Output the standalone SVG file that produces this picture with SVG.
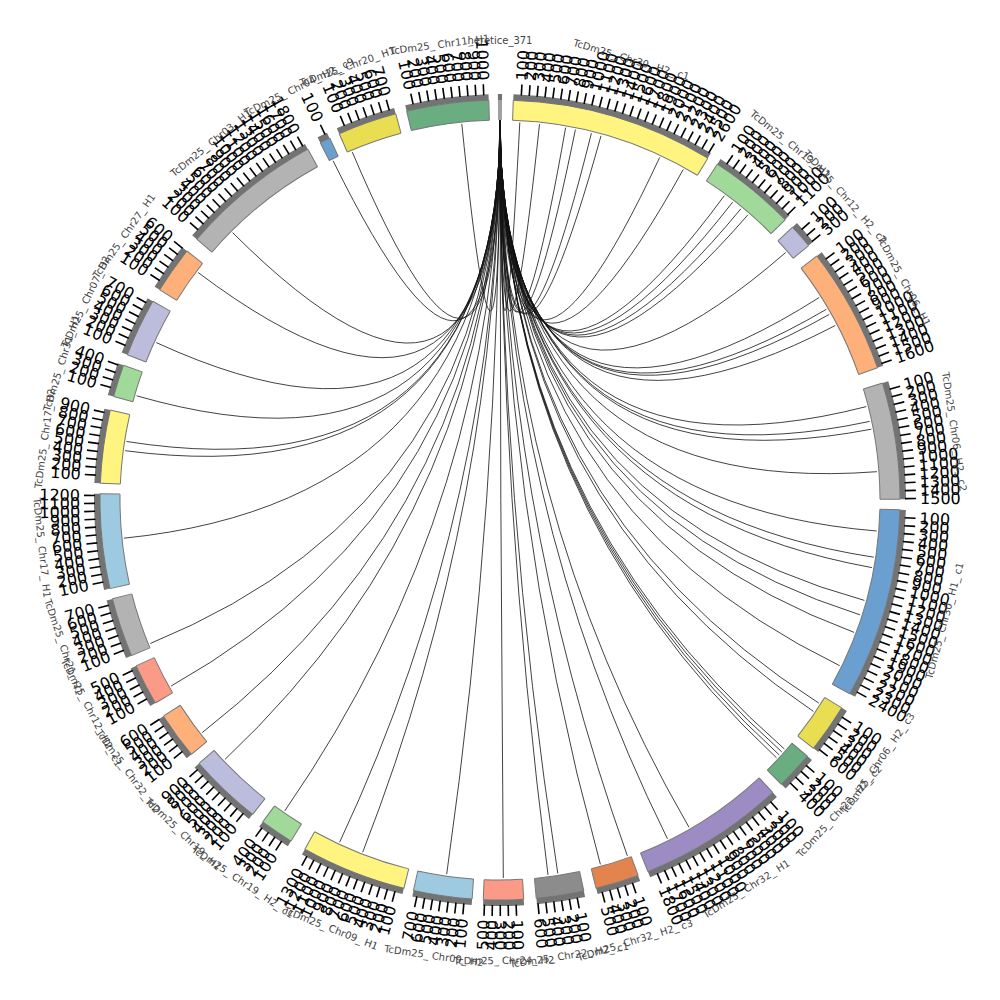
<svg xmlns="http://www.w3.org/2000/svg" width="1000" height="1000" viewBox="0 0 1000 1000">
<style>
.sg{fill:none;stroke-width:20;transform:rotate(-90deg)}
.ol{fill:none;stroke:#777;stroke-width:1;transform:rotate(-90deg)}
.bd{fill:none;stroke:#737373;stroke-width:6;transform:rotate(-90deg)}
.oe{fill:none;stroke:#777;stroke-width:1}
.k{stroke:#000;stroke-width:1.6}
.r,.l{font-family:"DejaVu Sans",sans-serif;font-size:16px;fill:#000;dominant-baseline:central}
.r{transform:rotate(-90deg)}
.l{transform:rotate(90deg);text-anchor:end}
.nm{font-family:"DejaVu Sans",sans-serif;font-size:10px;fill:#444;text-anchor:middle}
.lk{fill:none;stroke:#111;stroke-width:0.8}
</style>
<defs><path id="k" class="k" d="M0-405V-416"/></defs>
<rect width="1000" height="1000" fill="#fff"/>
<g id="links">
<path class="lk" d="M500 120Q500 500 519.8 122.5" stroke="#6b3a1a"/>
<path class="lk" d="M500 120Q500 500 539.5 124.1"/>
<path class="lk" d="M500 120Q500 500 565.6 127.7" stroke="#7a4020"/>
<path class="lk" d="M500 120Q500 500 575.4 129.6" stroke="#2f4f2f"/>
<path class="lk" d="M500 120Q500 500 591.4 133.2" stroke="#5a3a7a"/>
<path class="lk" d="M500 120Q500 500 601 135.8"/>
<path class="lk" d="M500 120Q500 500 659.7 157.4" stroke="#223"/>
<path class="lk" d="M500 120Q500 500 683.3 169.4"/>
<path class="lk" d="M500 120Q500 500 724.3 195.7"/>
<path class="lk" d="M500 120Q500 500 732.7 202.1" stroke="#334"/>
<path class="lk" d="M500 120Q500 500 740.9 208.8" stroke="#2f4f2f"/>
<path class="lk" d="M500 120Q500 500 748 214.7"/>
<path class="lk" d="M500 120Q500 500 785.7 252.5" stroke="#2f4f2f"/>
<path class="lk" d="M500 120Q500 500 819.2 297.5" stroke="#2f5f2f"/>
<path class="lk" d="M500 120Q500 500 826.4 309.3"/>
<path class="lk" d="M500 120Q500 500 829.3 314.4" stroke="#334"/>
<path class="lk" d="M500 120Q500 500 835.3 325.5"/>
<path class="lk" d="M500 120Q500 500 866.3 406.6"/>
<path class="lk" d="M500 120Q500 500 869.7 421.4"/>
<path class="lk" d="M500 120Q500 500 871.3 429.2" stroke="#5a4a1a"/>
<path class="lk" d="M500 120Q500 500 876.9 471.7"/>
<path class="lk" d="M500 120Q500 500 876.7 531"/>
<path class="lk" d="M500 120Q500 500 873.7 557.2" stroke="#6a3a1a"/>
<path class="lk" d="M500 120Q500 500 871.9 567.6"/>
<path class="lk" d="M500 120Q500 500 864.4 600.4"/>
<path class="lk" d="M500 120Q500 500 860.1 614.9" stroke="#2a3a5a"/>
<path class="lk" d="M500 120Q500 500 854.1 632.4"/>
<path class="lk" d="M500 120Q500 500 839.7 665.7"/>
<path class="lk" d="M500 120Q500 500 818.8 703.1"/>
<path class="lk" d="M500 120Q500 500 813.4 711.4" stroke="#6a3a1a"/>
<path class="lk" d="M500 120Q500 500 784.4 749"/>
<path class="lk" d="M500 120Q500 500 781.8 751.9"/>
<path class="lk" d="M500 120Q500 500 779.2 754.9"/>
<path class="lk" d="M500 120Q500 500 776.5 757.8"/>
<path class="lk" d="M500 120Q500 500 689 827.3" stroke="#6a6a2a"/>
<path class="lk" d="M500 120Q500 500 667.5 838.9" stroke="#2a2a5a"/>
<path class="lk" d="M500 120Q500 500 627.4 855.9"/>
<path class="lk" d="M500 120Q500 500 600.4 864.4" stroke="#3f6f3f"/>
<path class="lk" d="M500 120Q500 500 557.8 873.5" stroke="#5a4a1a" stroke-width="1.5"/>
<path class="lk" d="M500 120Q500 500 548 874.9" stroke="#3a4a3a"/>
<path class="lk" d="M500 120Q500 500 503.3 878" stroke="#4a4a7a"/>
<path class="lk" d="M500 120Q500 500 446.7 874.2" stroke="#7a3a1a"/>
<path class="lk" d="M500 120Q500 500 362.7 852.2"/>
<path class="lk" d="M500 120Q500 500 339.6 842.3" stroke-width="1.3"/>
<path class="lk" d="M500 120Q500 500 284.8 810.8"/>
<path class="lk" d="M500 120Q500 500 225 759.4" stroke="#3d6b3d"/>
<path class="lk" d="M500 120Q500 500 202.1 732.7" stroke="#8b4a2b"/>
<path class="lk" d="M500 120Q500 500 171 686.1" stroke="#4a3a2a"/>
<path class="lk" d="M500 120Q500 500 150.3 643.5"/>
<path class="lk" d="M500 120Q500 500 123.9 538.2"/>
<path class="lk" d="M500 120Q500 500 125.2 450.7"/>
<path class="lk" d="M500 120Q500 500 126.5 441.5"/>
<path class="lk" d="M500 120Q500 500 136.6 395.8"/>
<path class="lk" d="M500 120Q500 500 156.3 342.6"/>
<path class="lk" d="M500 120Q500 500 198.1 272.5"/>
<path class="lk" d="M500 120Q500 500 232.7 232.7"/>
<path class="lk" d="M500 120Q500 500 333.1 160.8"/>
<path class="lk" d="M500 120Q500 500 352.3 152.1"/>
<path class="lk" d="M500 120Q500 500 461.8 123.9"/>
</g>

<g id="seg-A" transform="translate(500,500) rotate(359.7)">
<circle class="sg" r="390" pathLength="360" stroke="#a0a0a0" stroke-dasharray="0.6 400"/>
<circle class="bd" r="403" pathLength="360" stroke-dasharray="0.6 400"/>
<text class="nm" transform="rotate(0.3)" y="-456">heretice_371</text>
</g>

<g id="seg-B" transform="translate(500,500) rotate(1.9)">
<circle class="sg" r="390" pathLength="360" stroke="#fff480" stroke-dasharray="29.4 400"/>
<circle class="ol" r="380" pathLength="360" stroke-dasharray="29.4 400"/>
<circle class="ol" r="400" pathLength="360" stroke-dasharray="29.4 400"/>
<path class="oe" d="M0-380V-400"/><path class="oe" d="M0-380V-400" transform="rotate(29.4)"/>
<circle class="bd" r="403" pathLength="360" stroke-dasharray="29.4 400"/>
<g transform="rotate(1.12)"><use href="#k"/><text class="r" x="420">100</text></g>
<g transform="rotate(2.24)"><use href="#k"/><text class="r" x="420">200</text></g>
<g transform="rotate(3.36)"><use href="#k"/><text class="r" x="420">300</text></g>
<g transform="rotate(4.48)"><use href="#k"/><text class="r" x="420">400</text></g>
<g transform="rotate(5.6)"><use href="#k"/><text class="r" x="420">500</text></g>
<g transform="rotate(6.72)"><use href="#k"/><text class="r" x="420">600</text></g>
<g transform="rotate(7.84)"><use href="#k"/><text class="r" x="420">700</text></g>
<g transform="rotate(8.96)"><use href="#k"/><text class="r" x="420">800</text></g>
<g transform="rotate(10.08)"><use href="#k"/><text class="r" x="420">900</text></g>
<g transform="rotate(11.2)"><use href="#k"/><text class="r" x="420">1000</text></g>
<g transform="rotate(12.32)"><use href="#k"/><text class="r" x="420">1100</text></g>
<g transform="rotate(13.44)"><use href="#k"/><text class="r" x="420">1200</text></g>
<g transform="rotate(14.56)"><use href="#k"/><text class="r" x="420">1300</text></g>
<g transform="rotate(15.68)"><use href="#k"/><text class="r" x="420">1400</text></g>
<g transform="rotate(16.8)"><use href="#k"/><text class="r" x="420">1500</text></g>
<g transform="rotate(17.92)"><use href="#k"/><text class="r" x="420">1600</text></g>
<g transform="rotate(19.04)"><use href="#k"/><text class="r" x="420">1700</text></g>
<g transform="rotate(20.16)"><use href="#k"/><text class="r" x="420">1800</text></g>
<g transform="rotate(21.28)"><use href="#k"/><text class="r" x="420">1900</text></g>
<g transform="rotate(22.4)"><use href="#k"/><text class="r" x="420">2000</text></g>
<g transform="rotate(23.52)"><use href="#k"/><text class="r" x="420">2100</text></g>
<g transform="rotate(24.64)"><use href="#k"/><text class="r" x="420">2200</text></g>
<g transform="rotate(25.76)"><use href="#k"/><text class="r" x="420">2300</text></g>
<g transform="rotate(26.88)"><use href="#k"/><text class="r" x="420">2400</text></g>
<g transform="rotate(28)"><use href="#k"/><text class="r" x="420">2500</text></g>
<g transform="rotate(29.12)"><use href="#k"/><text class="r" x="420">2600</text></g>
<text class="nm" transform="rotate(14.7)" y="-456">TcDm25_ Chr30_ H2_ c1</text>
</g>

<g id="seg-C" transform="translate(500,500) rotate(32.9)">
<circle class="sg" r="390" pathLength="360" stroke="#a1d99b" stroke-dasharray="12.6 400"/>
<circle class="ol" r="380" pathLength="360" stroke-dasharray="12.6 400"/>
<circle class="ol" r="400" pathLength="360" stroke-dasharray="12.6 400"/>
<path class="oe" d="M0-380V-400"/><path class="oe" d="M0-380V-400" transform="rotate(12.6)"/>
<circle class="bd" r="403" pathLength="360" stroke-dasharray="12.6 400"/>
<g transform="rotate(1.12)"><use href="#k"/><text class="r" x="420">100</text></g>
<g transform="rotate(2.24)"><use href="#k"/><text class="r" x="420">200</text></g>
<g transform="rotate(3.36)"><use href="#k"/><text class="r" x="420">300</text></g>
<g transform="rotate(4.48)"><use href="#k"/><text class="r" x="420">400</text></g>
<g transform="rotate(5.6)"><use href="#k"/><text class="r" x="420">500</text></g>
<g transform="rotate(6.72)"><use href="#k"/><text class="r" x="420">600</text></g>
<g transform="rotate(7.84)"><use href="#k"/><text class="r" x="420">700</text></g>
<g transform="rotate(8.96)"><use href="#k"/><text class="r" x="420">800</text></g>
<g transform="rotate(10.08)"><use href="#k"/><text class="r" x="420">900</text></g>
<g transform="rotate(11.2)"><use href="#k"/><text class="r" x="420">1000</text></g>
<g transform="rotate(12.32)"><use href="#k"/><text class="r" x="420">1100</text></g>
<text class="nm" transform="rotate(6.3)" y="-456">TcDm25_ Chr13_ H1</text>
</g>

<g id="seg-D" transform="translate(500,500) rotate(47)">
<circle class="sg" r="390" pathLength="360" stroke="#bcbddc" stroke-dasharray="3.5 400"/>
<circle class="ol" r="380" pathLength="360" stroke-dasharray="3.5 400"/>
<circle class="ol" r="400" pathLength="360" stroke-dasharray="3.5 400"/>
<path class="oe" d="M0-380V-400"/><path class="oe" d="M0-380V-400" transform="rotate(3.5)"/>
<circle class="bd" r="403" pathLength="360" stroke-dasharray="3.5 400"/>
<g transform="rotate(1.12)"><use href="#k"/><text class="r" x="420">100</text></g>
<g transform="rotate(2.24)"><use href="#k"/><text class="r" x="420">200</text></g>
<g transform="rotate(3.36)"><use href="#k"/><text class="r" x="420">300</text></g>
<text class="nm" transform="rotate(1.75)" y="-456">TcDm25_ Chr12_ H2_ c2</text>
</g>

<g id="seg-E" transform="translate(500,500) rotate(52.4)">
<circle class="sg" r="390" pathLength="360" stroke="#fdb07a" stroke-dasharray="18.3 400"/>
<circle class="ol" r="380" pathLength="360" stroke-dasharray="18.3 400"/>
<circle class="ol" r="400" pathLength="360" stroke-dasharray="18.3 400"/>
<path class="oe" d="M0-380V-400"/><path class="oe" d="M0-380V-400" transform="rotate(18.3)"/>
<circle class="bd" r="403" pathLength="360" stroke-dasharray="18.3 400"/>
<g transform="rotate(1.12)"><use href="#k"/><text class="r" x="420">100</text></g>
<g transform="rotate(2.24)"><use href="#k"/><text class="r" x="420">200</text></g>
<g transform="rotate(3.36)"><use href="#k"/><text class="r" x="420">300</text></g>
<g transform="rotate(4.48)"><use href="#k"/><text class="r" x="420">400</text></g>
<g transform="rotate(5.6)"><use href="#k"/><text class="r" x="420">500</text></g>
<g transform="rotate(6.72)"><use href="#k"/><text class="r" x="420">600</text></g>
<g transform="rotate(7.84)"><use href="#k"/><text class="r" x="420">700</text></g>
<g transform="rotate(8.96)"><use href="#k"/><text class="r" x="420">800</text></g>
<g transform="rotate(10.08)"><use href="#k"/><text class="r" x="420">900</text></g>
<g transform="rotate(11.2)"><use href="#k"/><text class="r" x="420">1000</text></g>
<g transform="rotate(12.32)"><use href="#k"/><text class="r" x="420">1100</text></g>
<g transform="rotate(13.44)"><use href="#k"/><text class="r" x="420">1200</text></g>
<g transform="rotate(14.56)"><use href="#k"/><text class="r" x="420">1300</text></g>
<g transform="rotate(15.68)"><use href="#k"/><text class="r" x="420">1400</text></g>
<g transform="rotate(16.8)"><use href="#k"/><text class="r" x="420">1500</text></g>
<g transform="rotate(17.92)"><use href="#k"/><text class="r" x="420">1600</text></g>
<text class="nm" transform="rotate(9.15)" y="-456">TcDm25_ Chr06_ H1</text>
</g>

<g id="seg-F" transform="translate(500,500) rotate(73)">
<circle class="sg" r="390" pathLength="360" stroke="#b3b3b3" stroke-dasharray="16.9 400"/>
<circle class="ol" r="380" pathLength="360" stroke-dasharray="16.9 400"/>
<circle class="ol" r="400" pathLength="360" stroke-dasharray="16.9 400"/>
<path class="oe" d="M0-380V-400"/><path class="oe" d="M0-380V-400" transform="rotate(16.9)"/>
<circle class="bd" r="403" pathLength="360" stroke-dasharray="16.9 400"/>
<g transform="rotate(1.12)"><use href="#k"/><text class="r" x="420">100</text></g>
<g transform="rotate(2.24)"><use href="#k"/><text class="r" x="420">200</text></g>
<g transform="rotate(3.36)"><use href="#k"/><text class="r" x="420">300</text></g>
<g transform="rotate(4.48)"><use href="#k"/><text class="r" x="420">400</text></g>
<g transform="rotate(5.6)"><use href="#k"/><text class="r" x="420">500</text></g>
<g transform="rotate(6.72)"><use href="#k"/><text class="r" x="420">600</text></g>
<g transform="rotate(7.84)"><use href="#k"/><text class="r" x="420">700</text></g>
<g transform="rotate(8.96)"><use href="#k"/><text class="r" x="420">800</text></g>
<g transform="rotate(10.08)"><use href="#k"/><text class="r" x="420">900</text></g>
<g transform="rotate(11.2)"><use href="#k"/><text class="r" x="420">1000</text></g>
<g transform="rotate(12.32)"><use href="#k"/><text class="r" x="420">1100</text></g>
<g transform="rotate(13.44)"><use href="#k"/><text class="r" x="420">1200</text></g>
<g transform="rotate(14.56)"><use href="#k"/><text class="r" x="420">1300</text></g>
<g transform="rotate(15.68)"><use href="#k"/><text class="r" x="420">1400</text></g>
<g transform="rotate(16.8)"><use href="#k"/><text class="r" x="420">1500</text></g>
<text class="nm" transform="rotate(8.45)" y="-456">TcDm25_ Chr06_ H2_ c2</text>
</g>

<g id="seg-G" transform="translate(500,500) rotate(91.4)">
<circle class="sg" r="390" pathLength="360" stroke="#6b9fcf" stroke-dasharray="27.6 400"/>
<circle class="ol" r="380" pathLength="360" stroke-dasharray="27.6 400"/>
<circle class="ol" r="400" pathLength="360" stroke-dasharray="27.6 400"/>
<path class="oe" d="M0-380V-400"/><path class="oe" d="M0-380V-400" transform="rotate(27.6)"/>
<circle class="bd" r="403" pathLength="360" stroke-dasharray="27.6 400"/>
<g transform="rotate(1.12)"><use href="#k"/><text class="r" x="420">100</text></g>
<g transform="rotate(2.24)"><use href="#k"/><text class="r" x="420">200</text></g>
<g transform="rotate(3.36)"><use href="#k"/><text class="r" x="420">300</text></g>
<g transform="rotate(4.48)"><use href="#k"/><text class="r" x="420">400</text></g>
<g transform="rotate(5.6)"><use href="#k"/><text class="r" x="420">500</text></g>
<g transform="rotate(6.72)"><use href="#k"/><text class="r" x="420">600</text></g>
<g transform="rotate(7.84)"><use href="#k"/><text class="r" x="420">700</text></g>
<g transform="rotate(8.96)"><use href="#k"/><text class="r" x="420">800</text></g>
<g transform="rotate(10.08)"><use href="#k"/><text class="r" x="420">900</text></g>
<g transform="rotate(11.2)"><use href="#k"/><text class="r" x="420">1000</text></g>
<g transform="rotate(12.32)"><use href="#k"/><text class="r" x="420">1100</text></g>
<g transform="rotate(13.44)"><use href="#k"/><text class="r" x="420">1200</text></g>
<g transform="rotate(14.56)"><use href="#k"/><text class="r" x="420">1300</text></g>
<g transform="rotate(15.68)"><use href="#k"/><text class="r" x="420">1400</text></g>
<g transform="rotate(16.8)"><use href="#k"/><text class="r" x="420">1500</text></g>
<g transform="rotate(17.92)"><use href="#k"/><text class="r" x="420">1600</text></g>
<g transform="rotate(19.04)"><use href="#k"/><text class="r" x="420">1700</text></g>
<g transform="rotate(20.16)"><use href="#k"/><text class="r" x="420">1800</text></g>
<g transform="rotate(21.28)"><use href="#k"/><text class="r" x="420">1900</text></g>
<g transform="rotate(22.4)"><use href="#k"/><text class="r" x="420">2000</text></g>
<g transform="rotate(23.52)"><use href="#k"/><text class="r" x="420">2100</text></g>
<g transform="rotate(24.64)"><use href="#k"/><text class="r" x="420">2200</text></g>
<g transform="rotate(25.76)"><use href="#k"/><text class="r" x="420">2300</text></g>
<g transform="rotate(26.88)"><use href="#k"/><text class="r" x="420">2400</text></g>
<text class="nm" transform="rotate(193.8)" y="464">TcDm25_ Chr30_ H1_ c1</text>
</g>

<g id="seg-H" transform="translate(500,500) rotate(121.3)">
<circle class="sg" r="390" pathLength="360" stroke="#e9de52" stroke-dasharray="7.1 400"/>
<circle class="ol" r="380" pathLength="360" stroke-dasharray="7.1 400"/>
<circle class="ol" r="400" pathLength="360" stroke-dasharray="7.1 400"/>
<path class="oe" d="M0-380V-400"/><path class="oe" d="M0-380V-400" transform="rotate(7.1)"/>
<circle class="bd" r="403" pathLength="360" stroke-dasharray="7.1 400"/>
<g transform="rotate(1.12)"><use href="#k"/><text class="r" x="420">100</text></g>
<g transform="rotate(2.24)"><use href="#k"/><text class="r" x="420">200</text></g>
<g transform="rotate(3.36)"><use href="#k"/><text class="r" x="420">300</text></g>
<g transform="rotate(4.48)"><use href="#k"/><text class="r" x="420">400</text></g>
<g transform="rotate(5.6)"><use href="#k"/><text class="r" x="420">500</text></g>
<g transform="rotate(6.72)"><use href="#k"/><text class="r" x="420">600</text></g>
<text class="nm" transform="rotate(183.55)" y="464">TcDm25_ Chr06_ H2_ c3</text>
</g>

<g id="seg-I" transform="translate(500,500) rotate(129.8)">
<circle class="sg" r="390" pathLength="360" stroke="#69ad80" stroke-dasharray="5.5 400"/>
<circle class="ol" r="380" pathLength="360" stroke-dasharray="5.5 400"/>
<circle class="ol" r="400" pathLength="360" stroke-dasharray="5.5 400"/>
<path class="oe" d="M0-380V-400"/><path class="oe" d="M0-380V-400" transform="rotate(5.5)"/>
<circle class="bd" r="403" pathLength="360" stroke-dasharray="5.5 400"/>
<g transform="rotate(1.12)"><use href="#k"/><text class="r" x="420">100</text></g>
<g transform="rotate(2.24)"><use href="#k"/><text class="r" x="420">200</text></g>
<g transform="rotate(3.36)"><use href="#k"/><text class="r" x="420">300</text></g>
<g transform="rotate(4.48)"><use href="#k"/><text class="r" x="420">400</text></g>
<text class="nm" transform="rotate(182.75)" y="464">TcDm25_ Chr22_ H2_ c2</text>
</g>

<g id="seg-J" transform="translate(500,500) rotate(137)">
<circle class="sg" r="390" pathLength="360" stroke="#9d8cc3" stroke-dasharray="21.3 400"/>
<circle class="ol" r="380" pathLength="360" stroke-dasharray="21.3 400"/>
<circle class="ol" r="400" pathLength="360" stroke-dasharray="21.3 400"/>
<path class="oe" d="M0-380V-400"/><path class="oe" d="M0-380V-400" transform="rotate(21.3)"/>
<circle class="bd" r="403" pathLength="360" stroke-dasharray="21.3 400"/>
<g transform="rotate(1.12)"><use href="#k"/><text class="r" x="420">100</text></g>
<g transform="rotate(2.24)"><use href="#k"/><text class="r" x="420">200</text></g>
<g transform="rotate(3.36)"><use href="#k"/><text class="r" x="420">300</text></g>
<g transform="rotate(4.48)"><use href="#k"/><text class="r" x="420">400</text></g>
<g transform="rotate(5.6)"><use href="#k"/><text class="r" x="420">500</text></g>
<g transform="rotate(6.72)"><use href="#k"/><text class="r" x="420">600</text></g>
<g transform="rotate(7.84)"><use href="#k"/><text class="r" x="420">700</text></g>
<g transform="rotate(8.96)"><use href="#k"/><text class="r" x="420">800</text></g>
<g transform="rotate(10.08)"><use href="#k"/><text class="r" x="420">900</text></g>
<g transform="rotate(11.2)"><use href="#k"/><text class="r" x="420">1000</text></g>
<g transform="rotate(12.32)"><use href="#k"/><text class="r" x="420">1100</text></g>
<g transform="rotate(13.44)"><use href="#k"/><text class="r" x="420">1200</text></g>
<g transform="rotate(14.56)"><use href="#k"/><text class="r" x="420">1300</text></g>
<g transform="rotate(15.68)"><use href="#k"/><text class="r" x="420">1400</text></g>
<g transform="rotate(16.8)"><use href="#k"/><text class="r" x="420">1500</text></g>
<g transform="rotate(17.92)"><use href="#k"/><text class="r" x="420">1600</text></g>
<g transform="rotate(19.04)"><use href="#k"/><text class="r" x="420">1700</text></g>
<g transform="rotate(20.16)"><use href="#k"/><text class="r" x="420">1800</text></g>
<text class="nm" transform="rotate(190.65)" y="464">TcDm25_ Chr32_ H1</text>
</g>

<g id="seg-K" transform="translate(500,500) rotate(159.8)">
<circle class="sg" r="390" pathLength="360" stroke="#e3844f" stroke-dasharray="6.3 400"/>
<circle class="ol" r="380" pathLength="360" stroke-dasharray="6.3 400"/>
<circle class="ol" r="400" pathLength="360" stroke-dasharray="6.3 400"/>
<path class="oe" d="M0-380V-400"/><path class="oe" d="M0-380V-400" transform="rotate(6.3)"/>
<circle class="bd" r="403" pathLength="360" stroke-dasharray="6.3 400"/>
<g transform="rotate(1.12)"><use href="#k"/><text class="r" x="420">100</text></g>
<g transform="rotate(2.24)"><use href="#k"/><text class="r" x="420">200</text></g>
<g transform="rotate(3.36)"><use href="#k"/><text class="r" x="420">300</text></g>
<g transform="rotate(4.48)"><use href="#k"/><text class="r" x="420">400</text></g>
<g transform="rotate(5.6)"><use href="#k"/><text class="r" x="420">500</text></g>
<text class="nm" transform="rotate(183.15)" y="464">TcDm25_ Chr32_ H2_ c3</text>
</g>

<g id="seg-L" transform="translate(500,500) rotate(167.9)">
<circle class="sg" r="390" pathLength="360" stroke="#8c8c8c" stroke-dasharray="6.9 400"/>
<circle class="ol" r="380" pathLength="360" stroke-dasharray="6.9 400"/>
<circle class="ol" r="400" pathLength="360" stroke-dasharray="6.9 400"/>
<path class="oe" d="M0-380V-400"/><path class="oe" d="M0-380V-400" transform="rotate(6.9)"/>
<circle class="bd" r="403" pathLength="360" stroke-dasharray="6.9 400"/>
<g transform="rotate(1.12)"><use href="#k"/><text class="r" x="420">100</text></g>
<g transform="rotate(2.24)"><use href="#k"/><text class="r" x="420">200</text></g>
<g transform="rotate(3.36)"><use href="#k"/><text class="r" x="420">300</text></g>
<g transform="rotate(4.48)"><use href="#k"/><text class="r" x="420">400</text></g>
<g transform="rotate(5.6)"><use href="#k"/><text class="r" x="420">500</text></g>
<g transform="rotate(6.72)"><use href="#k"/><text class="r" x="420">600</text></g>
<text class="nm" transform="rotate(183.45)" y="464">TcDm25_ Chr22_ H2_ c1</text>
</g>

<g id="seg-M" transform="translate(500,500) rotate(176.6)">
<circle class="sg" r="390" pathLength="360" stroke="#fb9a86" stroke-dasharray="5.8 400"/>
<circle class="ol" r="380" pathLength="360" stroke-dasharray="5.8 400"/>
<circle class="ol" r="400" pathLength="360" stroke-dasharray="5.8 400"/>
<path class="oe" d="M0-380V-400"/><path class="oe" d="M0-380V-400" transform="rotate(5.8)"/>
<circle class="bd" r="403" pathLength="360" stroke-dasharray="5.8 400"/>
<g transform="rotate(1.12)"><use href="#k"/><text class="r" x="420">100</text></g>
<g transform="rotate(2.24)"><use href="#k"/><text class="r" x="420">200</text></g>
<g transform="rotate(3.36)"><use href="#k"/><text class="r" x="420">300</text></g>
<g transform="rotate(4.48)"><use href="#k"/><text class="l" x="-420">400</text></g>
<g transform="rotate(5.6)"><use href="#k"/><text class="l" x="-420">500</text></g>
<text class="nm" transform="rotate(182.9)" y="464">TcDm25_ Chr24_ H2</text>
</g>

<g id="seg-N" transform="translate(500,500) rotate(184)">
<circle class="sg" r="390" pathLength="360" stroke="#9ecae1" stroke-dasharray="8.5 400"/>
<circle class="ol" r="380" pathLength="360" stroke-dasharray="8.5 400"/>
<circle class="ol" r="400" pathLength="360" stroke-dasharray="8.5 400"/>
<path class="oe" d="M0-380V-400"/><path class="oe" d="M0-380V-400" transform="rotate(8.5)"/>
<circle class="bd" r="403" pathLength="360" stroke-dasharray="8.5 400"/>
<g transform="rotate(1.12)"><use href="#k"/><text class="l" x="-420">100</text></g>
<g transform="rotate(2.24)"><use href="#k"/><text class="l" x="-420">200</text></g>
<g transform="rotate(3.36)"><use href="#k"/><text class="l" x="-420">300</text></g>
<g transform="rotate(4.48)"><use href="#k"/><text class="l" x="-420">400</text></g>
<g transform="rotate(5.6)"><use href="#k"/><text class="l" x="-420">500</text></g>
<g transform="rotate(6.72)"><use href="#k"/><text class="l" x="-420">600</text></g>
<g transform="rotate(7.84)"><use href="#k"/><text class="l" x="-420">700</text></g>
<text class="nm" transform="rotate(184.25)" y="464">TcDm25_ Chr09_ H2</text>
</g>

<g id="seg-O" transform="translate(500,500) rotate(193.9)">
<circle class="sg" r="390" pathLength="360" stroke="#fff480" stroke-dasharray="15.3 400"/>
<circle class="ol" r="380" pathLength="360" stroke-dasharray="15.3 400"/>
<circle class="ol" r="400" pathLength="360" stroke-dasharray="15.3 400"/>
<path class="oe" d="M0-380V-400"/><path class="oe" d="M0-380V-400" transform="rotate(15.3)"/>
<circle class="bd" r="403" pathLength="360" stroke-dasharray="15.3 400"/>
<g transform="rotate(1.12)"><use href="#k"/><text class="l" x="-420">100</text></g>
<g transform="rotate(2.24)"><use href="#k"/><text class="l" x="-420">200</text></g>
<g transform="rotate(3.36)"><use href="#k"/><text class="l" x="-420">300</text></g>
<g transform="rotate(4.48)"><use href="#k"/><text class="l" x="-420">400</text></g>
<g transform="rotate(5.6)"><use href="#k"/><text class="l" x="-420">500</text></g>
<g transform="rotate(6.72)"><use href="#k"/><text class="l" x="-420">600</text></g>
<g transform="rotate(7.84)"><use href="#k"/><text class="l" x="-420">700</text></g>
<g transform="rotate(8.96)"><use href="#k"/><text class="l" x="-420">800</text></g>
<g transform="rotate(10.08)"><use href="#k"/><text class="l" x="-420">900</text></g>
<g transform="rotate(11.2)"><use href="#k"/><text class="l" x="-420">1000</text></g>
<g transform="rotate(12.32)"><use href="#k"/><text class="l" x="-420">1100</text></g>
<g transform="rotate(13.44)"><use href="#k"/><text class="l" x="-420">1200</text></g>
<g transform="rotate(14.56)"><use href="#k"/><text class="l" x="-420">1300</text></g>
<text class="nm" transform="rotate(187.65)" y="464">TcDm25_ Chr09_ H1</text>
</g>

<g id="seg-P" transform="translate(500,500) rotate(211.5)">
<circle class="sg" r="390" pathLength="360" stroke="#a1d99b" stroke-dasharray="4.9 400"/>
<circle class="ol" r="380" pathLength="360" stroke-dasharray="4.9 400"/>
<circle class="ol" r="400" pathLength="360" stroke-dasharray="4.9 400"/>
<path class="oe" d="M0-380V-400"/><path class="oe" d="M0-380V-400" transform="rotate(4.9)"/>
<circle class="bd" r="403" pathLength="360" stroke-dasharray="4.9 400"/>
<g transform="rotate(1.12)"><use href="#k"/><text class="l" x="-420">100</text></g>
<g transform="rotate(2.24)"><use href="#k"/><text class="l" x="-420">200</text></g>
<g transform="rotate(3.36)"><use href="#k"/><text class="l" x="-420">300</text></g>
<g transform="rotate(4.48)"><use href="#k"/><text class="l" x="-420">400</text></g>
<text class="nm" transform="rotate(182.45)" y="464">TcDm25_ Chr19_ H2_ c1</text>
</g>

<g id="seg-Q" transform="translate(500,500) rotate(218.2)">
<circle class="sg" r="390" pathLength="360" stroke="#bcbddc" stroke-dasharray="10.6 400"/>
<circle class="ol" r="380" pathLength="360" stroke-dasharray="10.6 400"/>
<circle class="ol" r="400" pathLength="360" stroke-dasharray="10.6 400"/>
<path class="oe" d="M0-380V-400"/><path class="oe" d="M0-380V-400" transform="rotate(10.6)"/>
<circle class="bd" r="403" pathLength="360" stroke-dasharray="10.6 400"/>
<g transform="rotate(1.12)"><use href="#k"/><text class="l" x="-420">100</text></g>
<g transform="rotate(2.24)"><use href="#k"/><text class="l" x="-420">200</text></g>
<g transform="rotate(3.36)"><use href="#k"/><text class="l" x="-420">300</text></g>
<g transform="rotate(4.48)"><use href="#k"/><text class="l" x="-420">400</text></g>
<g transform="rotate(5.6)"><use href="#k"/><text class="l" x="-420">500</text></g>
<g transform="rotate(6.72)"><use href="#k"/><text class="l" x="-420">600</text></g>
<g transform="rotate(7.84)"><use href="#k"/><text class="l" x="-420">700</text></g>
<g transform="rotate(8.96)"><use href="#k"/><text class="l" x="-420">800</text></g>
<g transform="rotate(10.08)"><use href="#k"/><text class="l" x="-420">900</text></g>
<text class="nm" transform="rotate(185.3)" y="464">TcDm25_ Chr19_ H1</text>
</g>

<g id="seg-R" transform="translate(500,500) rotate(230.5)">
<circle class="sg" r="390" pathLength="360" stroke="#fdb07a" stroke-dasharray="6.8 400"/>
<circle class="ol" r="380" pathLength="360" stroke-dasharray="6.8 400"/>
<circle class="ol" r="400" pathLength="360" stroke-dasharray="6.8 400"/>
<path class="oe" d="M0-380V-400"/><path class="oe" d="M0-380V-400" transform="rotate(6.8)"/>
<circle class="bd" r="403" pathLength="360" stroke-dasharray="6.8 400"/>
<g transform="rotate(1.12)"><use href="#k"/><text class="l" x="-420">100</text></g>
<g transform="rotate(2.24)"><use href="#k"/><text class="l" x="-420">200</text></g>
<g transform="rotate(3.36)"><use href="#k"/><text class="l" x="-420">300</text></g>
<g transform="rotate(4.48)"><use href="#k"/><text class="l" x="-420">400</text></g>
<g transform="rotate(5.6)"><use href="#k"/><text class="l" x="-420">500</text></g>
<g transform="rotate(6.72)"><use href="#k"/><text class="l" x="-420">600</text></g>
<text class="nm" transform="rotate(183.4)" y="464">TcDm25_ Chr32_ H2</text>
</g>

<g id="seg-S" transform="translate(500,500) rotate(239.5)">
<circle class="sg" r="390" pathLength="360" stroke="#fb9a86" stroke-dasharray="6 400"/>
<circle class="ol" r="380" pathLength="360" stroke-dasharray="6 400"/>
<circle class="ol" r="400" pathLength="360" stroke-dasharray="6 400"/>
<path class="oe" d="M0-380V-400"/><path class="oe" d="M0-380V-400" transform="rotate(6)"/>
<circle class="bd" r="403" pathLength="360" stroke-dasharray="6 400"/>
<g transform="rotate(1.12)"><use href="#k"/><text class="l" x="-420">100</text></g>
<g transform="rotate(2.24)"><use href="#k"/><text class="l" x="-420">200</text></g>
<g transform="rotate(3.36)"><use href="#k"/><text class="l" x="-420">300</text></g>
<g transform="rotate(4.48)"><use href="#k"/><text class="l" x="-420">400</text></g>
<g transform="rotate(5.6)"><use href="#k"/><text class="l" x="-420">500</text></g>
<text class="nm" transform="rotate(183)" y="464">TcDm25_ Chr12_ H2_ c1</text>
</g>

<g id="seg-T" transform="translate(500,500) rotate(247.1)">
<circle class="sg" r="390" pathLength="360" stroke="#b3b3b3" stroke-dasharray="8.6 400"/>
<circle class="ol" r="380" pathLength="360" stroke-dasharray="8.6 400"/>
<circle class="ol" r="400" pathLength="360" stroke-dasharray="8.6 400"/>
<path class="oe" d="M0-380V-400"/><path class="oe" d="M0-380V-400" transform="rotate(8.6)"/>
<circle class="bd" r="403" pathLength="360" stroke-dasharray="8.6 400"/>
<g transform="rotate(1.12)"><use href="#k"/><text class="l" x="-420">100</text></g>
<g transform="rotate(2.24)"><use href="#k"/><text class="l" x="-420">200</text></g>
<g transform="rotate(3.36)"><use href="#k"/><text class="l" x="-420">300</text></g>
<g transform="rotate(4.48)"><use href="#k"/><text class="l" x="-420">400</text></g>
<g transform="rotate(5.6)"><use href="#k"/><text class="l" x="-420">500</text></g>
<g transform="rotate(6.72)"><use href="#k"/><text class="l" x="-420">600</text></g>
<g transform="rotate(7.84)"><use href="#k"/><text class="l" x="-420">700</text></g>
<text class="nm" transform="rotate(184.3)" y="464">TcDm25_ Chr21_ H1</text>
</g>

<g id="seg-U" transform="translate(500,500) rotate(257.2)">
<circle class="sg" r="390" pathLength="360" stroke="#9ecae1" stroke-dasharray="13.7 400"/>
<circle class="ol" r="380" pathLength="360" stroke-dasharray="13.7 400"/>
<circle class="ol" r="400" pathLength="360" stroke-dasharray="13.7 400"/>
<path class="oe" d="M0-380V-400"/><path class="oe" d="M0-380V-400" transform="rotate(13.7)"/>
<circle class="bd" r="403" pathLength="360" stroke-dasharray="13.7 400"/>
<g transform="rotate(1.12)"><use href="#k"/><text class="l" x="-420">100</text></g>
<g transform="rotate(2.24)"><use href="#k"/><text class="l" x="-420">200</text></g>
<g transform="rotate(3.36)"><use href="#k"/><text class="l" x="-420">300</text></g>
<g transform="rotate(4.48)"><use href="#k"/><text class="l" x="-420">400</text></g>
<g transform="rotate(5.6)"><use href="#k"/><text class="l" x="-420">500</text></g>
<g transform="rotate(6.72)"><use href="#k"/><text class="l" x="-420">600</text></g>
<g transform="rotate(7.84)"><use href="#k"/><text class="l" x="-420">700</text></g>
<g transform="rotate(8.96)"><use href="#k"/><text class="l" x="-420">800</text></g>
<g transform="rotate(10.08)"><use href="#k"/><text class="l" x="-420">900</text></g>
<g transform="rotate(11.2)"><use href="#k"/><text class="l" x="-420">1000</text></g>
<g transform="rotate(12.32)"><use href="#k"/><text class="l" x="-420">1100</text></g>
<g transform="rotate(13.44)"><use href="#k"/><text class="l" x="-420">1200</text></g>
<text class="nm" transform="rotate(186.85)" y="464">TcDm25_ Chr17_ H1</text>
</g>

<g id="seg-V" transform="translate(500,500) rotate(272.4)">
<circle class="sg" r="390" pathLength="360" stroke="#fff480" stroke-dasharray="10.6 400"/>
<circle class="ol" r="380" pathLength="360" stroke-dasharray="10.6 400"/>
<circle class="ol" r="400" pathLength="360" stroke-dasharray="10.6 400"/>
<path class="oe" d="M0-380V-400"/><path class="oe" d="M0-380V-400" transform="rotate(10.6)"/>
<circle class="bd" r="403" pathLength="360" stroke-dasharray="10.6 400"/>
<g transform="rotate(1.12)"><use href="#k"/><text class="l" x="-420">100</text></g>
<g transform="rotate(2.24)"><use href="#k"/><text class="l" x="-420">200</text></g>
<g transform="rotate(3.36)"><use href="#k"/><text class="l" x="-420">300</text></g>
<g transform="rotate(4.48)"><use href="#k"/><text class="l" x="-420">400</text></g>
<g transform="rotate(5.6)"><use href="#k"/><text class="l" x="-420">500</text></g>
<g transform="rotate(6.72)"><use href="#k"/><text class="l" x="-420">600</text></g>
<g transform="rotate(7.84)"><use href="#k"/><text class="l" x="-420">700</text></g>
<g transform="rotate(8.96)"><use href="#k"/><text class="l" x="-420">800</text></g>
<g transform="rotate(10.08)"><use href="#k"/><text class="l" x="-420">900</text></g>
<text class="nm" transform="rotate(5.3)" y="-456">TcDm25_ Chr17_ H2</text>
</g>

<g id="seg-W" transform="translate(500,500) rotate(285)">
<circle class="sg" r="390" pathLength="360" stroke="#a1d99b" stroke-dasharray="4.7 400"/>
<circle class="ol" r="380" pathLength="360" stroke-dasharray="4.7 400"/>
<circle class="ol" r="400" pathLength="360" stroke-dasharray="4.7 400"/>
<path class="oe" d="M0-380V-400"/><path class="oe" d="M0-380V-400" transform="rotate(4.7)"/>
<circle class="bd" r="403" pathLength="360" stroke-dasharray="4.7 400"/>
<g transform="rotate(1.12)"><use href="#k"/><text class="l" x="-420">100</text></g>
<g transform="rotate(2.24)"><use href="#k"/><text class="l" x="-420">200</text></g>
<g transform="rotate(3.36)"><use href="#k"/><text class="l" x="-420">300</text></g>
<g transform="rotate(4.48)"><use href="#k"/><text class="l" x="-420">400</text></g>
<text class="nm" transform="rotate(2.35)" y="-456">TcDm25_ Chr31_ H1</text>
</g>

<g id="seg-X" transform="translate(500,500) rotate(291.3)">
<circle class="sg" r="390" pathLength="360" stroke="#bcbddc" stroke-dasharray="8.5 400"/>
<circle class="ol" r="380" pathLength="360" stroke-dasharray="8.5 400"/>
<circle class="ol" r="400" pathLength="360" stroke-dasharray="8.5 400"/>
<path class="oe" d="M0-380V-400"/><path class="oe" d="M0-380V-400" transform="rotate(8.5)"/>
<circle class="bd" r="403" pathLength="360" stroke-dasharray="8.5 400"/>
<g transform="rotate(1.12)"><use href="#k"/><text class="l" x="-420">100</text></g>
<g transform="rotate(2.24)"><use href="#k"/><text class="l" x="-420">200</text></g>
<g transform="rotate(3.36)"><use href="#k"/><text class="l" x="-420">300</text></g>
<g transform="rotate(4.48)"><use href="#k"/><text class="l" x="-420">400</text></g>
<g transform="rotate(5.6)"><use href="#k"/><text class="l" x="-420">500</text></g>
<g transform="rotate(6.72)"><use href="#k"/><text class="l" x="-420">600</text></g>
<g transform="rotate(7.84)"><use href="#k"/><text class="l" x="-420">700</text></g>
<text class="nm" transform="rotate(4.25)" y="-456">TcDm25_ Chr07_ H2</text>
</g>

<g id="seg-Y" transform="translate(500,500) rotate(301.7)">
<circle class="sg" r="390" pathLength="360" stroke="#fdb07a" stroke-dasharray="6.8 400"/>
<circle class="ol" r="380" pathLength="360" stroke-dasharray="6.8 400"/>
<circle class="ol" r="400" pathLength="360" stroke-dasharray="6.8 400"/>
<path class="oe" d="M0-380V-400"/><path class="oe" d="M0-380V-400" transform="rotate(6.8)"/>
<circle class="bd" r="403" pathLength="360" stroke-dasharray="6.8 400"/>
<g transform="rotate(1.12)"><use href="#k"/><text class="l" x="-420">100</text></g>
<g transform="rotate(2.24)"><use href="#k"/><text class="l" x="-420">200</text></g>
<g transform="rotate(3.36)"><use href="#k"/><text class="l" x="-420">300</text></g>
<g transform="rotate(4.48)"><use href="#k"/><text class="l" x="-420">400</text></g>
<g transform="rotate(5.6)"><use href="#k"/><text class="l" x="-420">500</text></g>
<g transform="rotate(6.72)"><use href="#k"/><text class="l" x="-420">600</text></g>
<text class="nm" transform="rotate(3.4)" y="-456">TcDm25_ Chr27_ H1</text>
</g>

<g id="seg-Z" transform="translate(500,500) rotate(310.7)">
<circle class="sg" r="390" pathLength="360" stroke="#b3b3b3" stroke-dasharray="20.6 400"/>
<circle class="ol" r="380" pathLength="360" stroke-dasharray="20.6 400"/>
<circle class="ol" r="400" pathLength="360" stroke-dasharray="20.6 400"/>
<path class="oe" d="M0-380V-400"/><path class="oe" d="M0-380V-400" transform="rotate(20.6)"/>
<circle class="bd" r="403" pathLength="360" stroke-dasharray="20.6 400"/>
<g transform="rotate(1.12)"><use href="#k"/><text class="l" x="-420">100</text></g>
<g transform="rotate(2.24)"><use href="#k"/><text class="l" x="-420">200</text></g>
<g transform="rotate(3.36)"><use href="#k"/><text class="l" x="-420">300</text></g>
<g transform="rotate(4.48)"><use href="#k"/><text class="l" x="-420">400</text></g>
<g transform="rotate(5.6)"><use href="#k"/><text class="l" x="-420">500</text></g>
<g transform="rotate(6.72)"><use href="#k"/><text class="l" x="-420">600</text></g>
<g transform="rotate(7.84)"><use href="#k"/><text class="l" x="-420">700</text></g>
<g transform="rotate(8.96)"><use href="#k"/><text class="l" x="-420">800</text></g>
<g transform="rotate(10.08)"><use href="#k"/><text class="l" x="-420">900</text></g>
<g transform="rotate(11.2)"><use href="#k"/><text class="l" x="-420">1000</text></g>
<g transform="rotate(12.32)"><use href="#k"/><text class="l" x="-420">1100</text></g>
<g transform="rotate(13.44)"><use href="#k"/><text class="l" x="-420">1200</text></g>
<g transform="rotate(14.56)"><use href="#k"/><text class="l" x="-420">1300</text></g>
<g transform="rotate(15.68)"><use href="#k"/><text class="l" x="-420">1400</text></g>
<g transform="rotate(16.8)"><use href="#k"/><text class="l" x="-420">1500</text></g>
<g transform="rotate(17.92)"><use href="#k"/><text class="l" x="-420">1600</text></g>
<g transform="rotate(19.04)"><use href="#k"/><text class="l" x="-420">1700</text></g>
<g transform="rotate(20.16)"><use href="#k"/><text class="l" x="-420">1800</text></g>
<text class="nm" transform="rotate(10.3)" y="-456">TcDm25_ Chr03_ H1</text>
</g>

<g id="seg-AA" transform="translate(500,500) rotate(333.3)">
<circle class="sg" r="390" pathLength="360" stroke="#6b9fcf" stroke-dasharray="1.5 400"/>
<circle class="ol" r="380" pathLength="360" stroke-dasharray="1.5 400"/>
<circle class="ol" r="400" pathLength="360" stroke-dasharray="1.5 400"/>
<path class="oe" d="M0-380V-400"/><path class="oe" d="M0-380V-400" transform="rotate(1.5)"/>
<circle class="bd" r="403" pathLength="360" stroke-dasharray="1.5 400"/>
<g transform="rotate(1.12)"><use href="#k"/><text class="l" x="-420">100</text></g>
<text class="nm" transform="rotate(0.75)" y="-456">TcDm25_ Chr04_ H2_ c9</text>
</g>

<g id="seg-AB" transform="translate(500,500) rotate(336.3)">
<circle class="sg" r="390" pathLength="360" stroke="#e9de52" stroke-dasharray="8.6 400"/>
<circle class="ol" r="380" pathLength="360" stroke-dasharray="8.6 400"/>
<circle class="ol" r="400" pathLength="360" stroke-dasharray="8.6 400"/>
<path class="oe" d="M0-380V-400"/><path class="oe" d="M0-380V-400" transform="rotate(8.6)"/>
<circle class="bd" r="403" pathLength="360" stroke-dasharray="8.6 400"/>
<g transform="rotate(1.12)"><use href="#k"/><text class="l" x="-420">100</text></g>
<g transform="rotate(2.24)"><use href="#k"/><text class="l" x="-420">200</text></g>
<g transform="rotate(3.36)"><use href="#k"/><text class="l" x="-420">300</text></g>
<g transform="rotate(4.48)"><use href="#k"/><text class="l" x="-420">400</text></g>
<g transform="rotate(5.6)"><use href="#k"/><text class="l" x="-420">500</text></g>
<g transform="rotate(6.72)"><use href="#k"/><text class="l" x="-420">600</text></g>
<g transform="rotate(7.84)"><use href="#k"/><text class="l" x="-420">700</text></g>
<text class="nm" transform="rotate(4.3)" y="-456">TcDm25_ Chr20_ H1</text>
</g>

<g id="seg-AC" transform="translate(500,500) rotate(346.5)">
<circle class="sg" r="390" pathLength="360" stroke="#69ad80" stroke-dasharray="11.9 400"/>
<circle class="ol" r="380" pathLength="360" stroke-dasharray="11.9 400"/>
<circle class="ol" r="400" pathLength="360" stroke-dasharray="11.9 400"/>
<path class="oe" d="M0-380V-400"/><path class="oe" d="M0-380V-400" transform="rotate(11.9)"/>
<circle class="bd" r="403" pathLength="360" stroke-dasharray="11.9 400"/>
<g transform="rotate(1.12)"><use href="#k"/><text class="l" x="-420">100</text></g>
<g transform="rotate(2.24)"><use href="#k"/><text class="l" x="-420">200</text></g>
<g transform="rotate(3.36)"><use href="#k"/><text class="l" x="-420">300</text></g>
<g transform="rotate(4.48)"><use href="#k"/><text class="l" x="-420">400</text></g>
<g transform="rotate(5.6)"><use href="#k"/><text class="l" x="-420">500</text></g>
<g transform="rotate(6.72)"><use href="#k"/><text class="l" x="-420">600</text></g>
<g transform="rotate(7.84)"><use href="#k"/><text class="l" x="-420">700</text></g>
<g transform="rotate(8.96)"><use href="#k"/><text class="l" x="-420">800</text></g>
<g transform="rotate(10.08)"><use href="#k"/><text class="l" x="-420">900</text></g>
<g transform="rotate(11.2)"><use href="#k"/><text class="l" x="-420">1000</text></g>
<text class="nm" transform="rotate(5.95)" y="-456">TcDm25_ Chr11_ H1</text>
</g>
</svg>
